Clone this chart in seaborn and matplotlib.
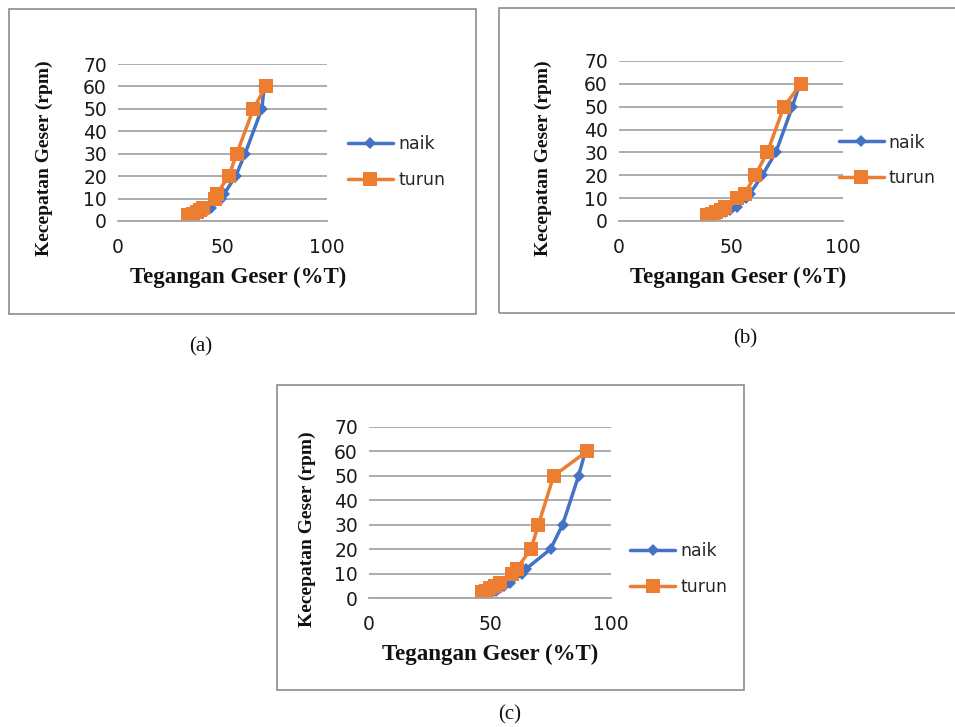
import matplotlib
matplotlib.use("Agg")
import matplotlib.pyplot as plt
from matplotlib.patches import Rectangle
import seaborn as sns

# shear speed (rpm), same for every panel
rpm = [2.5, 3, 4, 5, 6, 10, 12, 20, 30, 50, 60]

# shear stress (%T)
naik_a = [36.8, 38.9, 40.8, 42.7, 44.5, 49.5, 50.7, 56.3, 60.8, 68.8, 70.0]
turun_a = [33.6, 35.7, 37.6, 39.2, 40.8, 46.4, 47.2, 53.0, 56.8, 64.8, 70.7]

naik_b = [42.7, 45.0, 47.3, 49.6, 52.5, 56.5, 58.5, 64.0, 70.0, 77.4, 80.7]
turun_b = [39.2, 41.4, 43.3, 45.4, 47.3, 52.5, 56.2, 60.8, 66.2, 73.6, 81.2]

naik_c = [50.8, 52.5, 54.0, 55.6, 58.3, 63.4, 65.0, 75.0, 80.0, 86.6, 89.4]
turun_c = [46.6, 48.4, 50.0, 52.0, 54.0, 59.0, 61.0, 66.9, 70.0, 76.3, 90.0]

x_ticks = [0, 50, 100]
y_ticks = [0, 10, 20, 30, 40, 50, 60, 70]

BLUE = "#4472C4"
ORANGE = "#ED7D31"
GRID = "#a6a6a6"

sns.set_theme(style="white")
plt.rcParams["font.family"] = ["DejaVu Sans"]

W, H = 955, 727
fig = plt.figure(figsize=(W / 100, H / 100), dpi=100)


def fx(px):
    return px / W


def fy(px):
    return 1 - px / H


def panel(box, area, naik, turun, ylab_pos, xlab_pos, leg_pos, caption, cap_pos):
    # outer frame of the panel
    x0, y0, x1, y1 = box
    fig.patches.append(Rectangle((fx(x0), fy(y1)), fx(x1 - x0), (y1 - y0) / H,
                                 transform=fig.transFigure, fill=False,
                                 edgecolor="#8c8c8c", linewidth=1.2))
    l, t, r, b = area
    ax = fig.add_axes([fx(l), fy(b), fx(r - l), (b - t) / H])
    sns.lineplot(x=naik, y=rpm, ax=ax, sort=False, color=BLUE, linewidth=2.5,
                 marker="D", markersize=6.5, markeredgewidth=0, label="naik")
    sns.lineplot(x=turun, y=rpm, ax=ax, sort=False, color=ORANGE, linewidth=2.5,
                 marker="s", markersize=10, markeredgewidth=0, label="turun")
    ax.set_xlim(0, 100)
    ax.set_ylim(0, 70)
    ax.set_xticks(x_ticks)
    ax.set_yticks(y_ticks)
    ax.tick_params(axis="both", length=0, labelsize=13.5, colors="#1a1a1a")
    ax.tick_params(axis="x", pad=12)
    ax.tick_params(axis="y", pad=8)
    ax.yaxis.grid(True, color=GRID, linewidth=1.3)
    ax.set_axisbelow(True)
    for s in ["left", "right", "top"]:
        ax.spines[s].set_visible(False)
    ax.spines["bottom"].set_color(GRID)
    ax.spines["bottom"].set_linewidth(1.3)
    ax.set_xlabel("Tegangan Geser (%T)", family="Liberation Serif",
                  fontweight="bold", fontsize=16.5, color="#111111")
    ax.set_ylabel("Kecepatan Geser (rpm)", family="Liberation Serif",
                  fontweight="bold", fontsize=14, color="#111111")
    ax.yaxis.set_label_coords(*ylab_pos)
    ax.xaxis.set_label_coords(*xlab_pos)
    ax.legend(loc="center left", bbox_to_anchor=leg_pos, frameon=False,
              fontsize=12.5, handlelength=2.6, handletextpad=0.3,
              labelspacing=1.0, borderpad=0, borderaxespad=0)
    fig.text(fx(cap_pos[0]), fy(cap_pos[1]), caption, family="Liberation Serif",
             fontsize=15, ha="center", va="center", color="#111111")
    return ax


panel((9, 9, 476, 314), (118, 64, 327, 221), naik_a, turun_a,
      (-0.31, 0.40), (0.574, -0.29), (1.10, 0.375), "(a)", (201, 347))
panel((499, 8, 960, 313), (619, 61, 843, 221), naik_b, turun_b,
      (-0.30, 0.39), (0.53, -0.285), (0.98, 0.38), "(b)", (745, 339))
panel((277, 385, 744, 690), (369, 427, 611, 598), naik_c, turun_c,
      (-0.22, 0.40), (0.5, -0.27), (1.08, 0.17), "(c)", (510, 715))

fig.savefig("out.png", dpi=100)
